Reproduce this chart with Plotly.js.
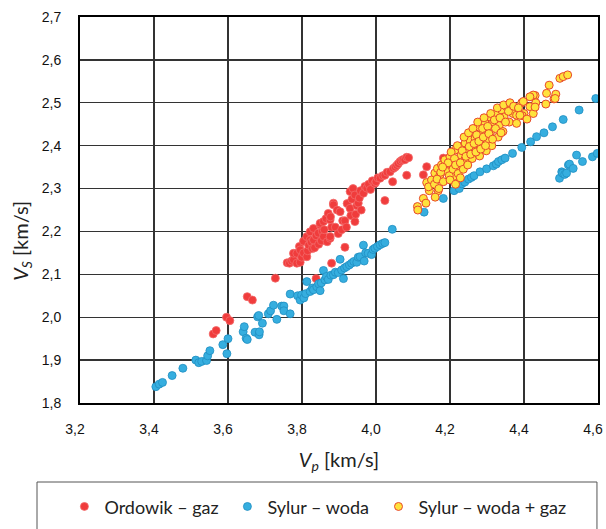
<!DOCTYPE html>
<html>
<head>
<meta charset="utf-8">
<script src="https://cdn.plot.ly/plotly-3.0.1.min.js"></script>
<style>
  html, body { margin: 0; padding: 0; background: #fff; }
  #chart { width: 606px; height: 529px; }
</style>
</head>
<body>
<div id="chart"></div>
<script>
// Vp / Vs pairs [km/s] for each group of samples
const ordowikVp = [
  3.560,3.568,3.596,3.605,3.652,3.666,3.728,3.838,3.880,3.916,
  3.760,3.766,3.772,3.777,3.786,3.795,3.777,3.786,3.793,3.799,
  3.795,3.804,3.804,3.813,3.813,3.815,3.818,3.822,3.822,3.825,
  3.828,3.831,3.831,3.834,3.838,3.844,3.845,3.849,3.849,3.852,
  3.855,3.858,3.858,3.860,3.865,3.868,3.871,3.876,3.876,3.876,
  3.877,3.880,3.885,3.885,3.890,3.895,3.898,3.903,3.907,3.910,
  3.916,3.920,3.922,3.930,3.930,3.932,3.935,3.938,3.943,3.943,
  3.945,3.948,3.952,3.955,3.958,3.960,3.966,3.970,3.975,3.980,
  3.985,3.990,3.997,4.000,4.005,4.011,4.018,4.024,4.024,4.030,
  4.038,4.045,4.047,4.052,4.056,4.060,4.065,4.070,4.074,4.078,
  4.083,4.083,4.088,4.128,4.137,4.182
];
const ordowikVs = [
  1.961,1.969,2.000,1.992,2.048,2.040,2.091,2.090,2.126,2.163,
  2.127,2.126,2.131,2.134,2.126,2.128,2.149,2.149,2.165,2.140,
  2.157,2.177,2.150,2.141,2.188,2.155,2.168,2.199,2.180,2.175,
  2.160,2.207,2.180,2.162,2.190,2.196,2.170,2.215,2.219,2.178,
  2.200,2.223,2.188,2.204,2.230,2.176,2.242,2.184,2.227,2.188,
  2.234,2.210,2.266,2.262,2.210,2.250,2.195,2.246,2.204,2.225,
  2.225,2.210,2.265,2.254,2.293,2.237,2.275,2.300,2.223,2.285,
  2.240,2.260,2.266,2.278,2.295,2.250,2.289,2.305,2.301,2.310,
  2.298,2.318,2.312,2.316,2.325,2.324,2.330,2.272,2.331,2.338,
  2.339,2.316,2.347,2.350,2.354,2.358,2.363,2.366,2.368,2.367,
  2.373,2.331,2.372,2.332,2.351,2.371
];

const sylurWodaVp = [
  3.405,3.414,3.423,3.449,3.478,3.513,3.521,3.529,3.542,3.545,
  3.551,3.586,3.600,3.597,3.641,3.644,3.649,3.652,3.673,3.684,
  3.685,3.680,3.683,3.693,3.709,3.715,3.723,3.732,3.745,3.751,
  3.751,3.768,3.768,3.788,3.795,3.799,3.805,3.813,3.810,3.822,
  3.828,3.831,3.840,3.845,3.849,3.852,3.858,3.862,3.866,3.871,
  3.878,3.885,3.890,3.898,3.903,3.907,3.912,3.915,3.921,3.928,
  3.934,3.940,3.948,3.952,3.957,3.966,3.968,3.972,3.979,3.988,
  3.992,3.997,4.004,4.011,4.018,4.024,4.044,4.130,4.182,4.211,
  4.225,4.232,4.240,4.250,4.258,4.265,4.281,4.299,4.317,4.325,
  4.331,4.340,4.349,4.369,4.394,4.418,4.434,4.454,4.477,4.506,
  4.549,4.594,4.496,4.502,4.504,4.510,4.515,4.520,4.523,4.533,
  4.542,4.558,4.585,4.598
];
const sylurWodaVs = [
  1.838,1.844,1.848,1.864,1.881,1.900,1.894,1.897,1.899,1.910,
  1.922,1.936,1.950,1.915,1.966,1.978,1.951,1.948,1.965,1.959,
  1.966,2.001,2.004,1.986,2.008,2.015,2.028,1.995,2.026,2.026,
  2.015,2.008,2.054,2.050,2.040,2.052,2.045,2.083,2.055,2.060,
  2.068,2.064,2.071,2.078,2.062,2.080,2.109,2.087,2.095,2.088,
  2.098,2.099,2.105,2.104,2.135,2.110,2.090,2.115,2.118,2.122,
  2.126,2.130,2.128,2.140,2.141,2.168,2.131,2.150,2.149,2.146,
  2.158,2.161,2.165,2.169,2.172,2.174,2.205,2.245,2.277,2.295,
  2.300,2.311,2.315,2.322,2.326,2.330,2.339,2.346,2.353,2.357,
  2.363,2.367,2.371,2.382,2.396,2.409,2.421,2.430,2.444,2.461,
  2.483,2.510,2.324,2.339,2.336,2.333,2.336,2.355,2.357,2.347,
  2.378,2.363,2.374,2.382
];

const sylurGazVp = [
  4.112,4.113,4.128,4.135,4.144,4.137,4.150,4.159,4.166,4.173,
  4.177,4.168,4.186,4.189,4.200,4.206,4.212,4.214,4.218,4.225,
  4.227,4.230,4.241,4.240,4.245,4.254,4.259,4.260,4.260,4.268,
  4.277,4.280,4.281,4.286,4.295,4.298,4.300,4.308,4.310,4.313,
  4.318,4.326,4.330,4.333,4.340,4.343,4.346,4.353,4.360,4.365,
  4.370,4.380,4.380,4.394,4.400,4.416,4.421,4.425,4.430,4.432,
  4.430,4.459,4.461,4.468,4.481,4.486,4.497,4.506,4.518,4.142,
  4.209,4.190,4.195,4.198,4.203,4.208,4.212,4.215,4.220,4.222,
  4.228,4.233,4.236,4.238,4.243,4.248,4.250,4.252,4.256,4.262,
  4.265,4.270,4.272,4.275,4.278,4.283,4.288,4.290,4.292,4.296,
  4.302,4.305,4.310,4.315,4.320,4.323,4.328,4.335,4.338,4.345,
  4.350,4.358,4.362,4.372,4.385,4.395,4.408,4.158,4.165,4.175,
  4.182,4.200,4.170,4.180,4.215,4.228,4.160,4.484,4.425,4.389,
  4.398,4.416
];
const sylurGazVs = [
  2.258,2.250,2.277,2.266,2.295,2.314,2.320,2.336,2.347,2.332,
  2.355,2.295,2.367,2.350,2.374,2.355,2.326,2.390,2.367,2.343,
  2.398,2.378,2.406,2.367,2.390,2.413,2.433,2.370,2.395,2.417,
  2.444,2.376,2.400,2.425,2.452,2.388,2.413,2.467,2.433,2.400,
  2.455,2.475,2.420,2.447,2.483,2.433,2.467,2.491,2.455,2.495,
  2.475,2.452,2.471,2.500,2.475,2.491,2.514,2.475,2.517,2.500,
  2.490,2.497,2.522,2.541,2.509,2.520,2.557,2.561,2.565,2.304,
  2.328,2.340,2.360,2.330,2.385,2.345,2.370,2.355,2.400,2.335,
  2.360,2.388,2.345,2.420,2.375,2.355,2.430,2.398,2.380,2.440,
  2.405,2.385,2.425,2.455,2.410,2.392,2.440,2.420,2.465,2.400,
  2.445,2.428,2.475,2.415,2.460,2.440,2.488,2.465,2.430,2.495,
  2.455,2.480,2.500,2.492,2.488,2.470,2.462,2.310,2.322,2.338,
  2.316,2.320,2.300,2.350,2.310,2.325,2.280,2.510,2.518,2.471,
  2.503,2.514
];

const seriesNames = ['Ordowik \u2013 gaz', 'Sylur \u2013 woda', 'Sylur \u2013 woda + gaz'];
const xTicks = [3.2, 3.4, 3.6, 3.8, 4.0, 4.2, 4.4, 4.6];
const yTicks = [1.8, 1.9, 2.0, 2.1, 2.2, 2.3, 2.4, 2.5, 2.6, 2.7];

const RED = '#F03C3C';
const BLUE = '#36AEDF';
const YELLOW = '#FFE23C';

const traces = [
  {
    type: 'scatter', mode: 'markers', name: seriesNames[0], legend: 'legend',
    x: ordowikVp, y: ordowikVs,
    marker: { size: 8, color: RED, line: { color: '#F26A6A', width: 0.8 } }
  },
  {
    type: 'scatter', mode: 'markers', name: seriesNames[1], legend: 'legend',
    x: sylurWodaVp, y: sylurWodaVs,
    marker: { size: 8, color: BLUE, line: { color: '#1F8EC2', width: 0.8 } }
  },
  {
    type: 'scatter', mode: 'markers', name: seriesNames[2], legend: 'legend2',
    x: sylurGazVp, y: sylurGazVs,
    marker: { size: 8, color: YELLOW, line: { color: '#E8482C', width: 1 } }
  }
];

const tickFont = { family: 'Liberation Sans, Arial, sans-serif', size: 14, color: '#111' };
const titleFont = { family: 'Lato, Open Sans, sans-serif', size: 20, color: '#222' };
const legendFont = { family: 'Lato, Open Sans, sans-serif', size: 18, color: '#222' };

// the key row is split over two legend groups so each entry sits at its own spot
const legendCommon = {
  orientation: 'h', xref: 'container', yref: 'container',
  xanchor: 'left', y: 0.042, yanchor: 'middle',
  font: legendFont, bgcolor: 'rgba(0,0,0,0)', borderwidth: 0
};

const layout = {
  width: 606, height: 529,
  margin: { l: 80, r: 8, t: 17, b: 126 },
  paper_bgcolor: '#fff', plot_bgcolor: '#fff',
  separators: ', ',
  showlegend: true,
  legend: Object.assign({}, legendCommon, { x: 0.1063, entrywidth: 118, entrywidthmode: 'pixels' }),
  legend2: Object.assign({}, legendCommon, { x: 0.6246 }),
  xaxis: {
    range: [3.2, 4.6], tickvals: xTicks, tickformat: '.1f',
    showgrid: true, gridcolor: '#333', gridwidth: 1.3,
    showline: true, linecolor: '#000', linewidth: 2, mirror: true,
    zeroline: false, ticks: '', ticklabelstandoff: 12,
    ticklabelshift: -5, ticklabeloverflow: 'allow',
    tickfont: tickFont, automargin: false,
    title: { text: '<i>V</i><sub><i>p</i></sub> [km/s]', font: titleFont, standoff: 17 }
  },
  yaxis: {
    range: [1.8, 2.7], tickvals: yTicks, tickformat: '.1f',
    showgrid: true, gridcolor: '#333', gridwidth: 1.3,
    showline: true, linecolor: '#000', linewidth: 2, mirror: true,
    zeroline: false, ticks: '', ticklabelstandoff: 14,
    tickfont: tickFont, automargin: false
  },
  annotations: [
    {
      // y-axis title, placed a little below the plot centre
      text: '<i>V</i><sub><i>S</i></sub> [km/s]',
      xref: 'paper', yref: 'paper',
      x: -0.112, y: 0.42, xanchor: 'center', yanchor: 'middle',
      textangle: -90, showarrow: false, font: titleFont
    }
  ],
  shapes: [
    {
      // frame round the legend
      type: 'rect', xref: 'paper', yref: 'paper',
      x0: -0.083, x1: 0.998, y0: -0.2047, y1: -0.40,
      line: { color: '#555', width: 1 }, fillcolor: 'rgba(0,0,0,0)'
    }
  ]
};

Plotly.newPlot('chart', traces, layout, { staticPlot: true, displayModeBar: false });
</script>
</body>
</html>
